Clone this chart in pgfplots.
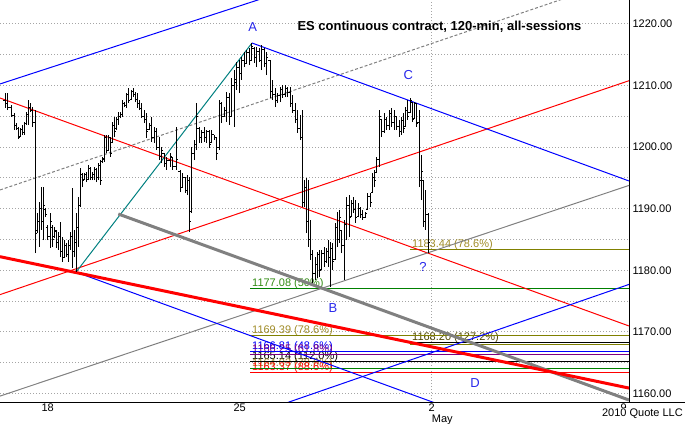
\documentclass[border=0pt]{standalone}
\usepackage{fontspec}
\setmainfont{Liberation Sans}
\usepackage{pgfplots}
\pgfplotsset{compat=1.18}
\usepackage{pgfplotstable}
\definecolor{lblue}{RGB}{0,0,255}
\definecolor{lred}{RGB}{255,0,0}
\definecolor{lteal}{RGB}{0,128,128}
\definecolor{lgray}{RGB}{128,128,128}
\definecolor{lolive}{RGB}{128,128,0}
\definecolor{tolive}{RGB}{160,140,40}
\definecolor{lgreen}{RGB}{0,128,0}
\definecolor{tgreen}{RGB}{50,140,20}
\definecolor{lpurple}{RGB}{128,0,128}
\definecolor{gridc}{RGB}{165,165,165}
\definecolor{lbl}{RGB}{40,40,235}
\definecolor{tdark}{RGB}{80,70,0}

\pgfdeclareplotmark{openL}{\pgfpathmoveto{\pgfqpoint{-1.6pt}{0pt}}\pgfpathlineto{\pgfqpoint{0pt}{0pt}}\pgfusepathqstroke}
\pgfdeclareplotmark{closeR}{\pgfpathmoveto{\pgfqpoint{0pt}{0pt}}\pgfpathlineto{\pgfqpoint{1.6pt}{0pt}}\pgfusepathqstroke}

\pgfplotstableread{
x hi lo op cl
5 1208.8 1206.35 1207.5 1207.0
7.5 1208.8 1206.0 1207.0 1206.5
11 1206.85 1204.9 1206.5 1205.2
14 1205.55 1202.8 1205.2 1203.5
16 1203.9 1202.8 1203.5 1203.1
18 1203.3 1201.3 1203.0 1201.5
20 1203.1 1201.65 1201.8 1202.8
22 1203.6 1202.0 1202.8 1202.3
24 1204.1 1202.0 1202.3 1203.8
26 1205.7 1203.6 1203.8 1205.3
28.5 1207.65 1203.6 1205.3 1206.5
30.5 1207.2 1205.7 1206.5 1206.0
32.5 1206.5 1203.3 1206.0 1204.0
35 1206.0 1182.8 1204.0 1186.0
37 1189.3 1186.05 1186.5 1188.0
39 1191.1 1183.8 1188.0 1190.0
41 1193.5 1186.55 1190.0 1188.0
43.5 1193.5 1184.9 1188.0 1190.5
45.5 1190.1 1188.65 1189.8 1189.0
47.5 1187.35 1184.9 1187.0 1185.5
50 1189.3 1183.6 1185.5 1188.0
52 1187.35 1183.8 1187.0 1185.0
54 1187.0 1185.25 1185.5 1186.5
56 1186.55 1183.6 1186.3 1184.5
58 1186.2 1183.3 1184.5 1185.5
60 1187.85 1182.15 1185.5 1183.0
62 1185.4 1181.35 1183.0 1182.0
64 1184.9 1182.0 1182.0 1184.0
66 1184.45 1182.15 1184.0 1182.5
68 1184.9 1181.35 1182.5 1184.0
70 1186.2 1183.3 1184.0 1185.5
72 1193.4 1180.4 1185.5 1183.0
74 1186.55 1182.15 1183.0 1184.5
76.5 1189.3 1179.7 1184.5 1187.0
78.5 1191.9 1183.8 1187.0 1190.5
80.5 1196.6 1190.3 1190.5 1195.5
82.5 1195.8 1193.5 1195.5 1194.5
84.5 1195.8 1194.65 1194.8 1195.5
86.5 1196.0 1194.3 1195.5 1194.8
88.5 1197.1 1194.65 1194.8 1196.5
90.5 1196.8 1194.65 1196.5 1195.0
92.5 1196.0 1194.65 1195.0 1195.5
94.5 1196.8 1194.65 1195.5 1196.3
96.5 1196.6 1194.3 1196.3 1195.0
98.5 1197.4 1194.65 1195.0 1197.0
100.5 1197.9 1193.85 1197.0 1194.5
102.5 1198.4 1197.4 1197.6 1198.2
104.5 1202.0 1197.6 1198.0 1201.5
106.5 1202.0 1199.0 1201.5 1199.5
108.5 1202.0 1199.5 1199.5 1201.5
110.5 1201.5 1198.4 1201.5 1199.0
112.5 1204.1 1200.65 1200.8 1203.5
114.5 1204.9 1201.65 1203.5 1202.5
116.5 1204.9 1202.8 1203.0 1204.5
118.5 1205.7 1203.6 1204.5 1205.0
120.5 1205.7 1204.7 1205.0 1205.3
122.5 1207.65 1204.9 1205.3 1207.0
124.5 1207.3 1206.5 1207.0 1206.8
126.5 1208.8 1206.35 1206.8 1208.5
128.5 1209.6 1207.2 1208.5 1207.5
131.5 1209.3 1207.65 1207.8 1209.0
133.5 1209.6 1208.1 1209.0 1208.5
135 1208.95 1207.3 1208.5 1207.8
137 1208.8 1206.35 1207.8 1207.0
139.5 1207.65 1206.0 1207.0 1206.3
141.5 1207.2 1204.7 1206.3 1205.0
144 1206.0 1203.9 1205.0 1204.5
146.5 1205.55 1201.5 1204.5 1202.5
149 1203.9 1202.8 1202.9 1203.5
151.5 1204.9 1200.8 1203.5 1201.5
154 1203.3 1200.65 1201.5 1202.5
156.5 1203.1 1199.5 1202.5 1200.0
159 1201.65 1197.9 1200.0 1198.5
161.5 1200.0 1197.4 1198.5 1199.5
164 1199.0 1196.8 1199.0 1197.3
166.5 1198.4 1196.3 1197.3 1197.8
170 1199.0 1196.8 1197.8 1198.5
172.5 1198.4 1196.3 1198.3 1196.8
176 1203.3 1196.3 1196.8 1198.0
180 1196.3 1192.7 1196.0 1193.5
182.5 1195.8 1193.5 1193.5 1195.0
185 1195.1 1192.55 1195.0 1193.0
187 1195.5 1192.2 1193.0 1194.5
189 1195.1 1186.2 1194.5 1188.0
191.5 1200.0 1189.3 1189.5 1199.0
194 1201.15 1197.9 1199.0 1200.5
196.5 1207.2 1199.5 1200.5 1205.0
199 1203.3 1200.65 1203.0 1201.5
201.5 1202.8 1200.65 1201.5 1202.3
204 1203.3 1200.8 1202.3 1201.5
206.5 1202.8 1200.65 1201.5 1202.5
209 1202.8 1199.85 1202.5 1200.5
211.5 1202.8 1200.65 1200.8 1202.0
214 1202.0 1201.15 1202.0 1201.5
216.5 1201.65 1197.9 1201.5 1199.0
219 1207.65 1199.5 1200.0 1207.0
221.5 1207.3 1203.9 1207.0 1205.0
224 1206.5 1204.9 1205.0 1206.0
226.5 1208.95 1204.1 1206.0 1208.0
229 1208.8 1203.6 1208.0 1205.0
231.5 1211.2 1204.9 1205.0 1210.0
234 1212.5 1203.3 1210.0 1211.0
236.5 1213.8 1209.3 1210.5 1213.0
239 1214.1 1208.8 1213.0 1212.0
241.5 1214.6 1210.9 1212.0 1214.0
244 1215.45 1213.0 1214.0 1213.5
246.5 1215.8 1213.65 1213.65 1215.3
249 1216.1 1213.3 1215.3 1214.0
251.5 1216.9 1214.1 1214.1 1216.3
254 1216.25 1213.65 1216.0 1214.5
256.5 1216.25 1213.0 1214.5 1215.5
259 1216.1 1213.8 1215.5 1214.0
261.5 1216.6 1212.5 1214.0 1215.8
264 1216.1 1213.0 1215.8 1213.5
266.5 1215.45 1211.7 1213.5 1214.5
270 1214.1 1208.0 1214.0 1209.0
272.5 1210.9 1207.65 1209.0 1208.5
275 1209.6 1206.5 1208.5 1207.5
277.5 1208.8 1207.2 1207.5 1208.3
280 1209.75 1207.3 1208.3 1209.3
282.5 1210.1 1208.0 1209.3 1208.5
285 1210.1 1208.1 1208.5 1209.5
287.5 1209.75 1208.1 1209.5 1208.8
290 1209.75 1206.5 1208.8 1207.0
292.5 1208.5 1205.55 1207.0 1206.0
295 1207.2 1203.9 1206.0 1204.5
297.5 1206.0 1202.3 1204.5 1203.0
300 1205.2 1201.15 1203.0 1201.5
302 1206.0 1190.3 1201.5 1191.0
304 1194.65 1190.3 1191.0 1193.5
306 1195.0 1186.05 1193.5 1188.0
308.5 1194.65 1183.8 1188.0 1185.0
310.5 1188.2 1181.7 1185.0 1182.5
312.5 1183.3 1177.9 1182.5 1179.5
315 1182.15 1178.4 1179.5 1181.0
317.5 1183.0 1178.75 1181.0 1182.5
319.5 1183.3 1178.9 1182.5 1180.0
321.5 1183.3 1180.05 1180.1 1182.8
324 1183.8 1180.55 1182.8 1181.5
326 1183.6 1181.2 1181.5 1183.0
328.5 1184.9 1180.55 1183.0 1182.0
330.5 1184.6 1177.3 1182.0 1183.5
332.5 1184.45 1180.05 1183.5 1181.5
335 1187.7 1181.7 1181.7 1187.0
337.5 1189.45 1183.8 1187.0 1185.0
339.5 1189.8 1184.45 1185.0 1188.5
341.5 1186.55 1182.8 1186.5 1184.0
344 1188.2 1178.4 1184.0 1187.5
346.5 1191.9 1184.9 1187.5 1190.5
349 1192.2 1185.4 1190.5 1188.5
351 1191.4 1188.65 1188.8 1190.8
353.5 1191.9 1189.3 1190.8 1189.8
355.5 1191.4 1187.7 1189.8 1188.5
358.5 1190.9 1188.65 1188.7 1190.0
360.5 1190.3 1188.5 1190.0 1189.0
362.5 1189.8 1188.2 1189.0 1188.6
365 1189.45 1188.5 1188.6 1189.2
367.5 1192.55 1189.8 1189.8 1192.0
370 1192.55 1190.3 1192.0 1191.0
372.5 1195.8 1192.55 1192.6 1195.0
374.5 1196.3 1193.5 1195.0 1194.5
376.5 1198.4 1195.8 1195.8 1198.0
379 1206.0 1196.8 1198.0 1205.0
381.5 1204.4 1201.65 1204.4 1202.5
384 1205.55 1202.3 1202.5 1204.5
386.5 1204.9 1202.8 1204.5 1203.5
389 1206.0 1202.8 1203.5 1205.5
391.5 1206.35 1203.3 1205.5 1204.0
394 1206.0 1202.8 1204.0 1205.0
396.5 1204.9 1202.8 1204.9 1203.3
399 1204.4 1201.65 1203.3 1202.5
401.5 1204.9 1202.0 1202.5 1204.3
403.5 1205.55 1202.3 1204.3 1203.0
405.5 1206.5 1203.3 1203.3 1206.0
407.5 1207.65 1204.4 1206.0 1205.0
410 1208.0 1205.55 1205.55 1207.5
412.5 1207.3 1204.1 1207.3 1204.5
414.5 1207.3 1204.7 1204.7 1207.0
416.5 1207.2 1203.3 1207.0 1203.8
419 1206.0 1193.5 1204.0 1194.5
421.5 1198.7 1191.4 1194.5 1196.0
423.5 1194.65 1187.0 1194.65 1188.0
425.5 1193.0 1186.55 1188.0 1189.0
428 1189.3 1182.8 1189.0 1184.5
}\bars

\begin{document}
\begin{tikzpicture}
\path[use as bounding box] (0pt,-21pt) rectangle (685pt,402pt);
\begin{axis}[
  at={(0pt,0pt)}, anchor=south west,
  scale only axis, width=629pt, height=402pt,
  xmin=0, xmax=629, ymin=1158.62, ymax=1223.88,
  axis x line*=bottom, axis y line*=right,
  axis line style={line width=1pt, black, -},
  xtick={47.7,239.7,431.7,623.7}, xticklabels={18,25,2,9},
  ytick={1160,1170,1180,1190,1200,1210,1220},
  minor ytick={1165,1175,1185,1195,1205,1215},
  ymajorgrids=true, yminorgrids=true,
  major grid style={draw=gridc, dash pattern=on 1pt off 2pt, line width=0.9pt},
  minor grid style={draw=gridc, dash pattern=on 1pt off 2pt, line width=0.9pt},
  major tick length=0pt, minor tick length=0pt,
  ticklabel style={font=\fontsize{11}{13}\selectfont},
  /pgf/number format/assume math mode=true,
  yticklabel style={/pgf/number format/fixed, /pgf/number format/fixed zerofill, /pgf/number format/precision=2, /pgf/number format/1000 sep={}},
  xticklabel style={yshift=1.5pt},
]
% vertical month grid line
\draw[draw=gridc, dash pattern=on 1pt off 2pt, line width=0.9pt] (431.7,1158.62) -- (431.7,1223.88);

% label texts (under lines)
\begin{scope}[every node/.style={font=\fontsize{11}{13}\selectfont, inner sep=0pt, anchor=base west, yshift=2pt}]
\node[text=tolive] at (412,1183.44) {1183.44 (78.6\%)};
\node[text=tgreen] at (252,1177.08) {1177.08 (50\%)};
\node[text=tolive] at (252,1169.39) {1169.39 (78.6\%)};
\node[text=tdark] at (412,1168.20) {1168.20 (127.2\%)};
\node[text=lblue] at (252,1166.81) {1166.81 (48.6\%)};
\node[text=lpurple] at (252,1166.25) {1166.25 (61.8\%)};
\node[text=black] at (252,1165.14) {1165.14 (112.0\%)};
\node[text=tolive] at (252,1164.03) {1164.03 (78.6\%)};
\node[text=lred] at (252,1163.37) {1163.37 (88.6\%)};
\end{scope}

% horizontal fib lines
\addplot[lolive, line width=1pt] coordinates {(410,1183.44) (629,1183.44)};
\addplot[lgreen, line width=1pt] coordinates {(250,1177.08) (629,1177.08)};
\addplot[lolive, line width=1pt] coordinates {(250,1169.39) (629,1169.39)};
\addplot[black, line width=1pt] coordinates {(410,1168.20) (629,1168.20)};
\addplot[lolive, line width=1pt] coordinates {(410,1167.90) (629,1167.90)};
\addplot[lblue, line width=1pt] coordinates {(250,1166.81) (629,1166.81)};
\addplot[lpurple, line width=1pt] coordinates {(250,1166.25) (629,1166.25)};
\addplot[black, line width=1pt] coordinates {(250,1165.14) (629,1165.14)};
\addplot[lgreen, line width=1pt] coordinates {(250,1164.03) (629,1164.03)};
\addplot[lred, line width=1pt] coordinates {(250,1163.37) (629,1163.37)};

% diagonal lines
\addplot[lblue, line width=1pt] coordinates {(0,1210.25) (300,1226.11)};
\addplot[lgray, line width=1pt, dash pattern=on 3pt off 2pt] coordinates {(0,1193.04) (629,1227.69)};
\addplot[lred, line width=1pt] coordinates {(0,1207.97) (629,1170.96)};
\addplot[lred, line width=1pt] coordinates {(0,1176.05) (629,1210.78)};
\addplot[lgray, line width=1pt] coordinates {(0,1159.58) (629,1193.78)};
\addplot[lblue, line width=1pt] coordinates {(75,1179.77) (450,1157.58)};
\addplot[lblue, line width=1pt] coordinates {(280,1158.11) (629,1177.71)};
\addplot[lteal, line width=1pt] coordinates {(77,1179.9) (252,1216.9)};
\addplot[lblue, line width=1pt] coordinates {(252,1216.9) (629,1194.5)};
\addplot[lgray, line width=3pt] coordinates {(118.3,1189.14) (629,1158.94)};
\addplot[lred, line width=3pt] coordinates {(0,1182.21) (629,1160.88)};

% OHLC bars
\addplot[draw=none, mark=none, forget plot,
  error bars/.cd, y dir=plus, y explicit, error mark=none,
  error bar style={draw=black, solid, line width=1pt}]
  table[x=x, y=lo, y error expr=\thisrow{hi}-\thisrow{lo}] {\bars};
\addplot[only marks, mark=openL, mark options={draw=black, line width=1pt}] table[x=x, y=op] {\bars};
\addplot[only marks, mark=closeR, mark options={draw=black, line width=1pt}] table[x=x, y=cl] {\bars};

% wave labels and title
\begin{scope}[every node/.style={font=\fontsize{13}{15}\selectfont, text=lbl, inner sep=0pt}]
\node at (252.7,1219.55) {A};
\node at (333,1173.88) {B};
\node at (408.3,1211.7) {C};
\node at (475,1161.7) {D};
\node at (423,1180.6) {?};
\end{scope}
\node[font=\bfseries\fontsize{13}{15}\selectfont, inner sep=0pt] at (439.5,1219.45) {ES continuous contract, 120-min, all-sessions};
\end{axis}
\draw[line width=1pt] (0pt,0pt) -- (685pt,0pt);
\node[font=\fontsize{11}{13}\selectfont, inner sep=0pt, anchor=base west] at (431.7pt,-20pt) {May};
\node[font=\fontsize{11}{13}\selectfont, inner sep=1pt, fill=white, anchor=east] at (684pt,-11.5pt) {2010 Quote LLC};
\end{tikzpicture}
\end{document}
